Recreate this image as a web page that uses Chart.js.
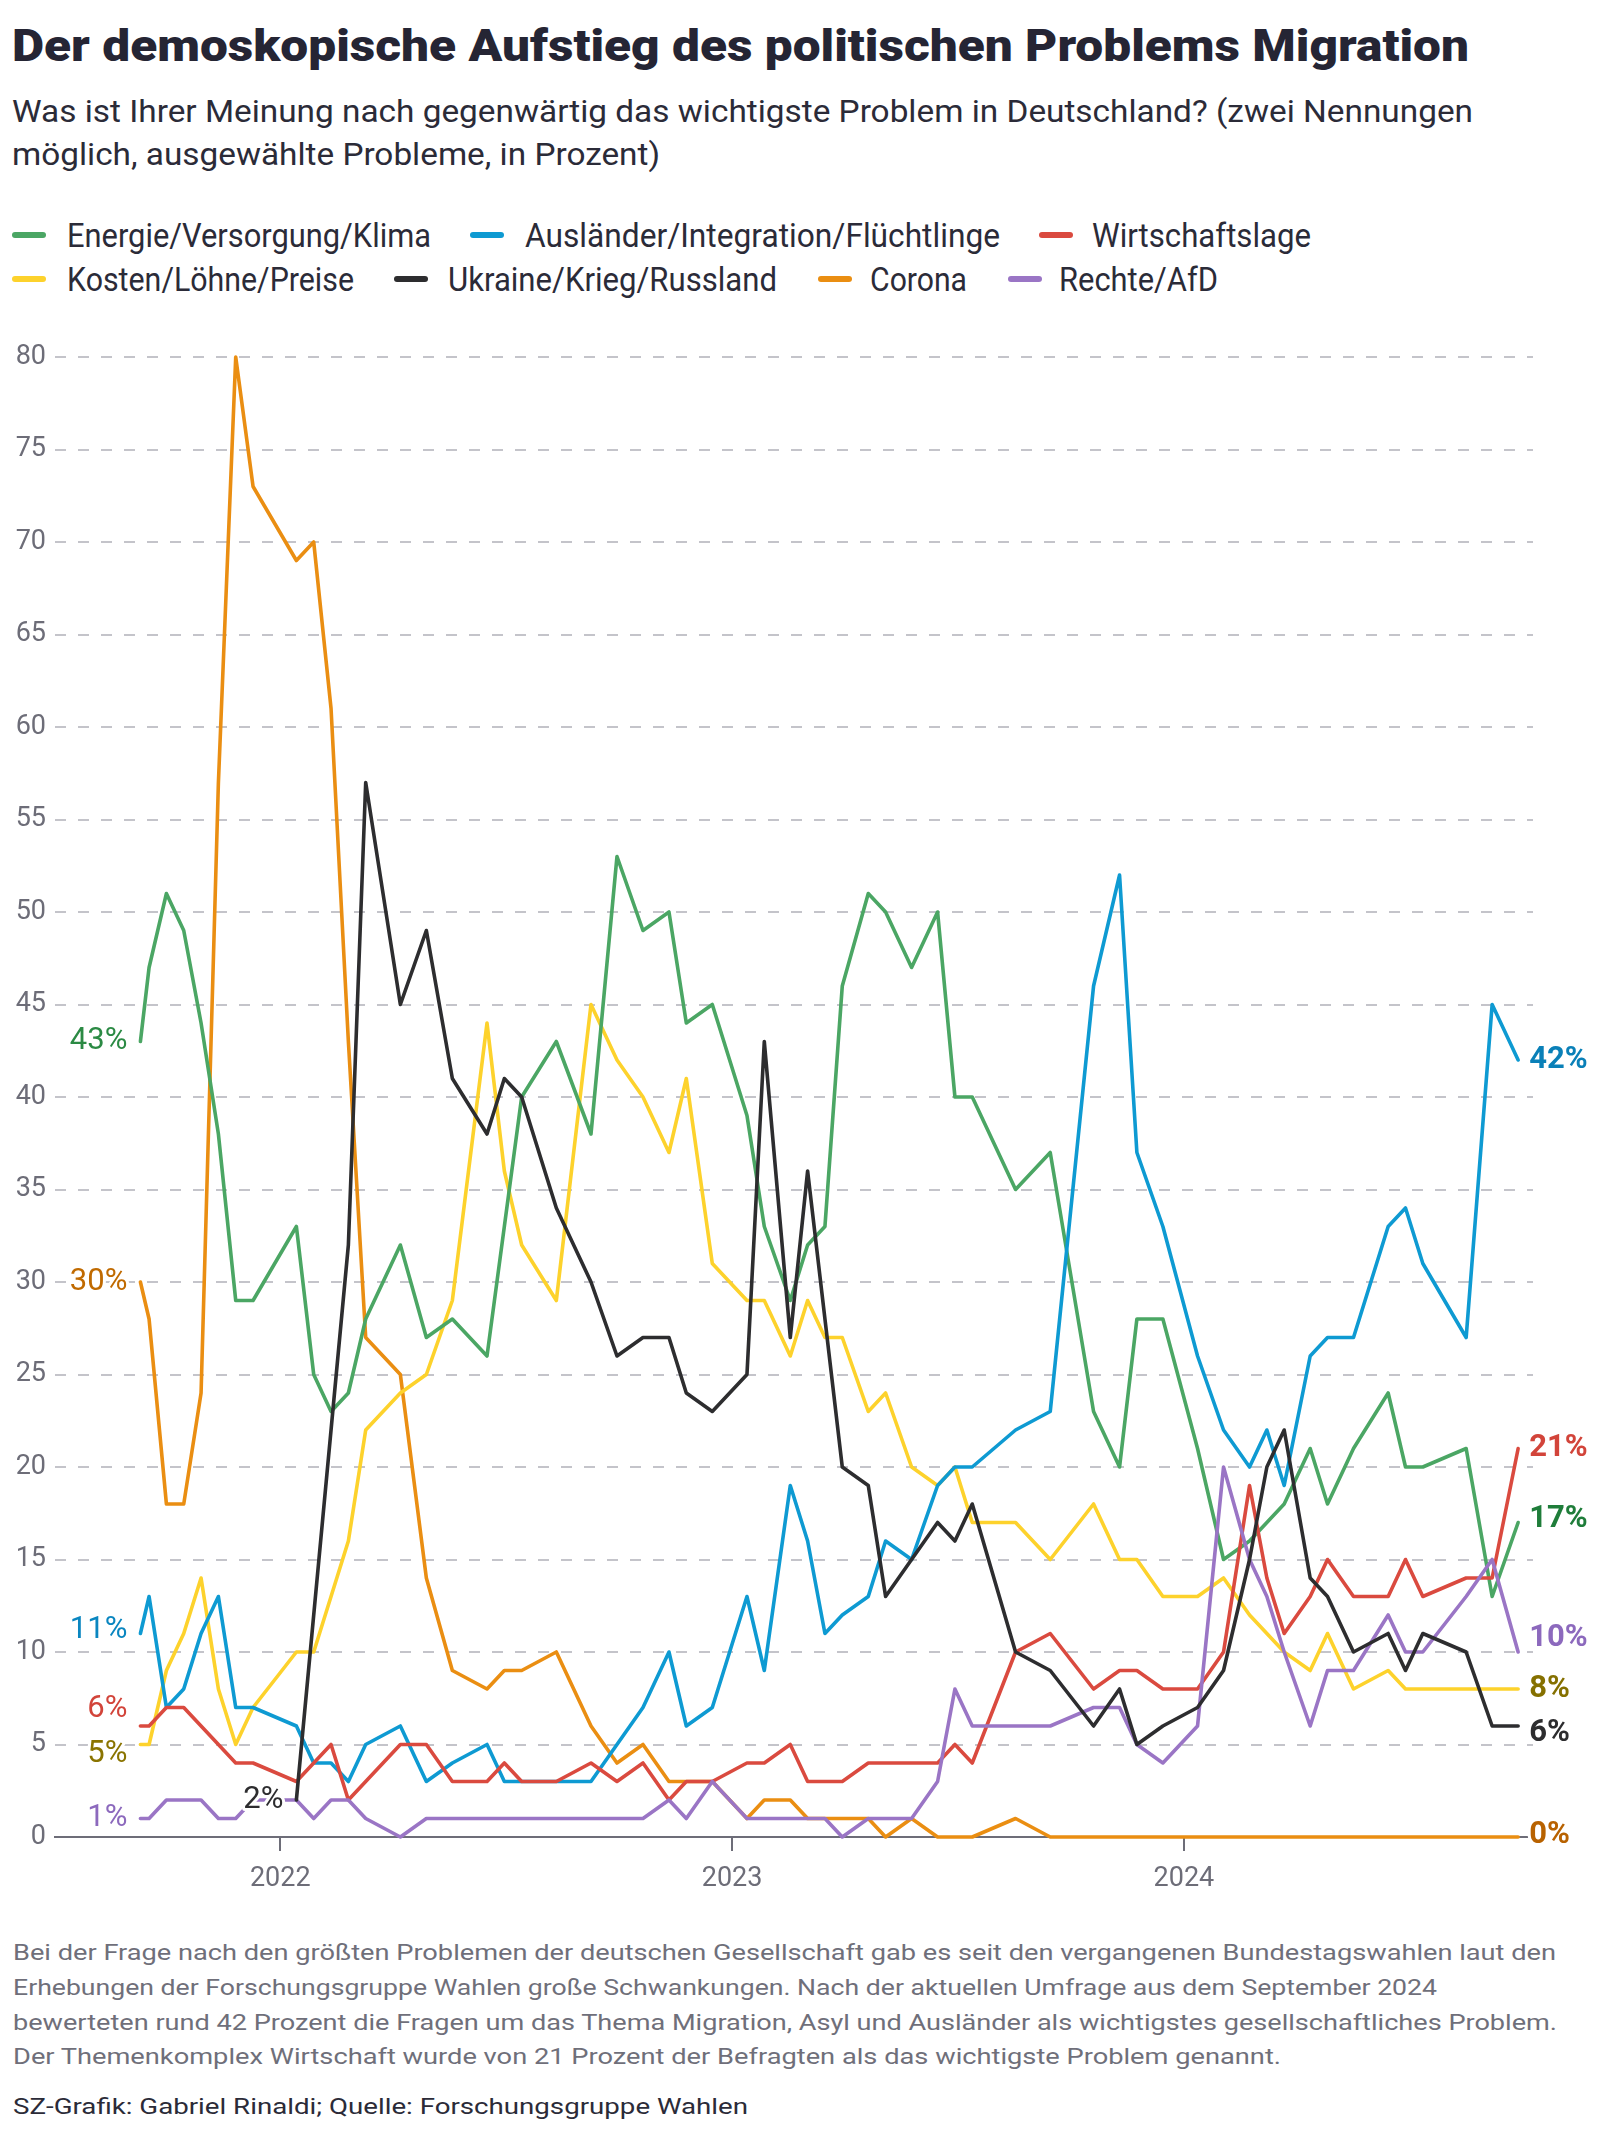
<!DOCTYPE html>
<html lang="de">
<head>
<meta charset="utf-8">
<title>Der demoskopische Aufstieg des politischen Problems Migration</title>
<script src="https://cdn.jsdelivr.net/npm/chart.js@4.4.1/dist/chart.umd.min.js"></script>
<style>
    html, body { margin: 0; padding: 0; background: #fff; }
    body { width: 1608px; height: 2138px; position: relative; overflow: hidden; }
    .t { position: absolute; white-space: nowrap; transform-origin: 0 50%; }
    .key { position: absolute; width: 34px; height: 6px; border-radius: 3px; }
    #chartBox { position: absolute; left: 0; top: 330px; width: 1608px; height: 1600px; }
</style>
</head>
<body>
<div id="chartBox"><canvas id="problemsChart"></canvas></div>
<script>
// Forschungsgruppe Wahlen, Politbarometer: wichtigste Probleme (in Prozent)
const POLL_DATES = [
    '2021-09-10', '2021-09-17', '2021-10-01', '2021-10-15', '2021-10-29', '2021-11-12', '2021-11-26', '2021-12-10',
    '2022-01-14', '2022-01-28', '2022-02-11', '2022-02-25', '2022-03-11', '2022-04-08', '2022-04-29', '2022-05-20',
    '2022-06-17', '2022-07-01', '2022-07-15', '2022-08-12', '2022-09-09', '2022-09-30', '2022-10-21', '2022-11-11',
    '2022-11-25', '2022-12-16',
    '2023-01-13', '2023-01-27', '2023-02-17', '2023-03-03', '2023-03-17', '2023-03-31', '2023-04-21', '2023-05-05',
    '2023-05-26', '2023-06-16', '2023-06-30', '2023-07-14', '2023-08-18', '2023-09-15', '2023-10-20', '2023-11-10',
    '2023-11-24', '2023-12-15',
    '2024-01-12', '2024-02-02', '2024-02-23', '2024-03-08', '2024-03-22', '2024-04-12', '2024-04-26', '2024-05-17',
    '2024-06-14', '2024-06-28', '2024-07-12', '2024-08-16', '2024-09-06', '2024-09-27'
];

const ENERGIE = [43, 47, 51, 49, 44, 38, 29, 29,
    33, 25, 23, 24, 28, 32, 27, 28, 26, 33, 40, 43, 38, 53, 49, 50, 44, 45,
    39, 33, 29, 32, 33, 46, 51, 50, 47, 50, 40, 40, 35, 37, 23, 20, 28, 28,
    21, 15, 16, 17, 18, 21, 18, 21, 24, 20, 20, 21, 13, 17];
const AUSLAENDER = [11, 13, 7, 8, 11, 13, 7, 7,
    6, 4, 4, 3, 5, 6, 3, 4, 5, 3, 3, 3, 3, 5, 7, 10, 6, 7,
    13, 9, 19, 16, 11, 12, 13, 16, 15, 19, 20, 20, 22, 23, 46, 52, 37, 33,
    26, 22, 20, 22, 19, 26, 27, 27, 33, 34, 31, 27, 45, 42];
const WIRTSCHAFT = [6, 6, 7, 7, 6, 5, 4, 4,
    3, 4, 5, 2, 3, 5, 5, 3, 3, 4, 3, 3, 4, 3, 4, 2, 3, 3,
    4, 4, 5, 3, 3, 3, 4, 4, 4, 4, 5, 4, 10, 11, 8, 9, 9, 8,
    8, 10, 19, 14, 11, 13, 15, 13, 13, 15, 13, 14, 14, 21];
const KOSTEN = [5, 5, 9, 11, 14, 8, 5, 7,
    10, 10, 13, 16, 22, 24, 25, 29, 44, 36, 32, 29, 45, 42, 40, 37, 41, 31,
    29, 29, 26, 29, 27, 27, 23, 24, 20, 19, 20, 17, 17, 15, 18, 15, 15, 13,
    13, 14, 12, 11, 10, 9, 11, 8, 9, 8, 8, 8, 8, 8];
const UKRAINE = [null, null, null, null, null, null, null, null,
    2, 12, 22, 32, 57, 45, 49, 41, 38, 41, 40, 34, 30, 26, 27, 27, 24, 23,
    25, 43, 27, 36, 28, 20, 19, 13, 15, 17, 16, 18, 10, 9, 6, 8, 5, 6,
    7, 9, 15, 20, 22, 14, 13, 10, 11, 9, 11, 10, 6, 6];
const CORONA = [30, 28, 18, 18, 24, 57, 80, 73,
    69, 70, 61, 43, 27, 25, 14, 9, 8, 9, 9, 10, 6, 4, 5, 3, 3, 3,
    1, 2, 2, 1, 1, 1, 1, 0, 1, 0, 0, 0, 1, 0, 0, 0, 0, 0,
    0, 0, 0, 0, 0, 0, 0, 0, 0, 0, 0, 0, 0, 0];
const RECHTE = [1, 1, 2, 2, 2, 1, 1, 2,
    2, 1, 2, 2, 1, 0, 1, 1, 1, 1, 1, 1, 1, 1, 1, 2, 1, 3,
    1, 1, 1, 1, 1, 0, 1, 1, 1, 3, 8, 6, 6, 6, 7, 7, 5, 4,
    6, 20, 15, 13, 10, 6, 9, 9, 12, 10, 10, 13, 15, 10];

const Y_TICKS = [0, 5, 10, 15, 20, 25, 30, 35, 40, 45, 50, 55, 60, 65, 70, 75, 80];
const YEAR_TICKS = ['2022-01-01', '2023-01-01', '2024-01-01'];

const FONT = 'Roboto, "Noto Sans", sans-serif';

// legend order = series order; order: lower value is drawn on top
const SERIES = [
    { name: 'Energie/Versorgung/Klima', values: ENERGIE, color: '#4ba664', text: '#2b8a44', endText: '#1f7d3a', startDy: 0, endDy: -3, order: 4 },
    { name: 'Ausländer/Integration/Flüchtlinge', values: AUSLAENDER, color: '#0e9ad2', text: '#0a86c0', endText: '#0a80b8', startDy: -3, endDy: 0, order: 3 },
    { name: 'Wirtschaftslage', values: WIRTSCHAFT, color: '#da4a3f', text: '#d2443a', endText: '#d2443a', startDy: -17, endDy: 0, order: 2 },
    { name: 'Kosten/Löhne/Preise', values: KOSTEN, color: '#fdd22c', text: '#8a7400', endText: '#857000', startDy: 10, endDy: 0, order: 5 },
    { name: 'Ukraine/Krieg/Russland', values: UKRAINE, color: '#2d2d2f', text: '#2d2d2f', endText: '#2d2d2f', startDy: 0, endDy: 7, order: 0 },
    { name: 'Corona', values: CORONA, color: '#ea8e12', text: '#c06a00', endText: '#b86200', startDy: 0, endDy: -2, order: 6 },
    { name: 'Rechte/AfD', values: RECHTE, color: '#9a75c5', text: '#8c69bd', endText: '#8c69bd', startDy: 0, endDy: -14, order: 1 }
];

// header, legend and notes
const TEXTS = [
    { text: 'Der demoskopische Aufstieg des politischen Problems Migration', x: 12, cy: 45, w: 1457, size: 45, weight: 900, color: '#252534' },
    { text: 'Was ist Ihrer Meinung nach gegenwärtig das wichtigste Problem in Deutschland? (zwei Nennungen', x: 12, cy: 111, w: 1461, size: 31, color: '#2b2b38' },
    { text: 'möglich, ausgewählte Probleme, in Prozent)', x: 12, cy: 154, w: 648, size: 31, color: '#2b2b38' },
    { text: 'Bei der Frage nach den größten Problemen der deutschen Gesellschaft gab es seit den vergangenen Bundestagswahlen laut den', x: 13, cy: 1953, w: 1543, size: 22, color: '#6f6f7a' },
    { text: 'Erhebungen der Forschungsgruppe Wahlen große Schwankungen. Nach der aktuellen Umfrage aus dem September 2024', x: 13, cy: 1988, w: 1424, size: 22, color: '#6f6f7a' },
    { text: 'bewerteten rund 42 Prozent die Fragen um das Thema Migration, Asyl und Ausländer als wichtigstes gesellschaftliches Problem.', x: 13, cy: 2023, w: 1544, size: 22, color: '#6f6f7a' },
    { text: 'Der Themenkomplex Wirtschaft wurde von 21 Prozent der Befragten als das wichtigste Problem genannt.', x: 13, cy: 2057, w: 1268, size: 22, color: '#6f6f7a' },
    { text: 'SZ-Grafik: Gabriel Rinaldi; Quelle: Forschungsgruppe Wahlen', x: 13, cy: 2107, w: 735, size: 22, color: '#2b2b38' }
];
const LEGEND_POS = [
    { key: 12, x: 67, w: 364, cy: 235 },
    { key: 470, x: 525, w: 475, cy: 235 },
    { key: 1039, x: 1092, w: 219, cy: 235 },
    { key: 12, x: 67, w: 287, cy: 279 },
    { key: 394, x: 448, w: 329, cy: 279 },
    { key: 818, x: 870, w: 97, cy: 279 },
    { key: 1008, x: 1059, w: 159, cy: 279 }
];

function placeText(t) {
    const el = document.createElement('div');
    el.className = 't';
    el.textContent = t.text;
    el.style.font = `${t.weight || 400} ${t.size}px/1 ${FONT}`;
    el.style.color = t.color;
    el.style.left = t.x + 'px';
    el.style.top = (t.cy - 0.49 * t.size) + 'px';
    document.body.appendChild(el);
    const natural = el.getBoundingClientRect().width;
    if (t.w && natural) el.style.transform = `scaleX(${t.w / natural})`;
}

TEXTS.forEach(placeText);
SERIES.forEach((s, i) => {
    const p = LEGEND_POS[i];
    const key = document.createElement('div');
    key.className = 'key';
    key.style.left = p.key + 'px';
    key.style.top = (p.cy - 3) + 'px';
    key.style.background = s.color;
    document.body.appendChild(key);
    placeText({ text: s.name, x: p.x, cy: p.cy, w: p.w, size: 34, color: '#2b2b38' });
});

// first and last value written next to each line
const lineLabels = {
    id: 'lineLabels',
    afterDatasetsDraw(chart) {
        const ctx = chart.ctx;
        const xs = chart.scales.x, ys = chart.scales.y;
        chart.data.datasets.forEach((ds, i) => {
            const s = SERIES[i];
            const pts = ds.data.filter(p => p.y !== null);
            const first = pts[0], last = pts[pts.length - 1];
            ctx.save();
            ctx.textBaseline = 'middle';
            ctx.lineJoin = 'round';
            ctx.strokeStyle = '#fff';
            ctx.lineWidth = 6;

            ctx.font = `400 31px ${FONT}`;
            ctx.textAlign = 'right';
            ctx.fillStyle = s.text;
            let x = xs.getPixelForValue(first.x) - 13;
            let y = ys.getPixelForValue(first.y) + s.startDy;
            ctx.strokeText(first.y + '%', x, y);
            ctx.fillText(first.y + '%', x, y);

            ctx.font = `700 31px ${FONT}`;
            ctx.textAlign = 'left';
            ctx.fillStyle = s.endText;
            x = xs.getPixelForValue(last.x) + 11;
            y = ys.getPixelForValue(last.y) + s.endDy;
            ctx.strokeText(last.y + '%', x, y);
            ctx.fillText(last.y + '%', x, y);
            ctx.restore();
        });
    }
};

new Chart(document.getElementById('problemsChart'), {
    type: 'line',
    data: {
        datasets: SERIES.map(s => ({
            label: s.name,
            data: POLL_DATES.map((d, i) => ({ x: Date.parse(d), y: s.values[i] })),
            borderColor: s.color,
            backgroundColor: s.color,
            borderWidth: 3.6,
            borderJoinStyle: 'round',
            borderCapStyle: 'round',
            pointRadius: 0,
            tension: 0,
            clip: false,
            order: s.order
        }))
    },
    options: {
        responsive: true,
        maintainAspectRatio: false,
        animation: false,
        devicePixelRatio: 1,
        layout: { padding: { top: 27, right: 75, bottom: 13, left: 0 } },
        plugins: {
            legend: { display: false },
            tooltip: { enabled: false }
        },
        scales: {
            x: {
                type: 'linear',
                min: Date.UTC(2021, 6, 3),
                max: Date.UTC(2024, 9, 9),
                afterBuildTicks: sc => { sc.ticks = YEAR_TICKS.map(d => ({ value: Date.parse(d) })); },
                afterFit: sc => { sc.height = 80; },
                ticks: {
                    callback: v => new Date(v).getUTCFullYear(),
                    color: '#6d6d78',
                    font: { family: FONT, size: 27 },
                    padding: 12,
                    maxRotation: 0,
                    autoSkip: false
                },
                grid: { drawOnChartArea: false, drawTicks: true, tickLength: 14, color: '#6d6d78', lineWidth: 2 },
                border: { display: true, color: '#6d6d78', width: 2 }
            },
            y: {
                min: 0,
                max: 80,
                afterBuildTicks: sc => { sc.ticks = Y_TICKS.map(v => ({ value: v })); },
                afterFit: sc => { sc.width = 55; },
                ticks: {
                    color: '#6d6d78',
                    font: { family: FONT, size: 27 },
                    padding: 9
                },
                grid: {
                    color: c => c.tick && c.tick.value === 0 ? 'rgba(0,0,0,0)' : '#c4c4ca',
                    lineWidth: 2,
                    drawTicks: false
                },
                border: { display: false, dash: [11, 12] }
            }
        }
    },
    plugins: [lineLabels]
});
</script>
</body>
</html>
